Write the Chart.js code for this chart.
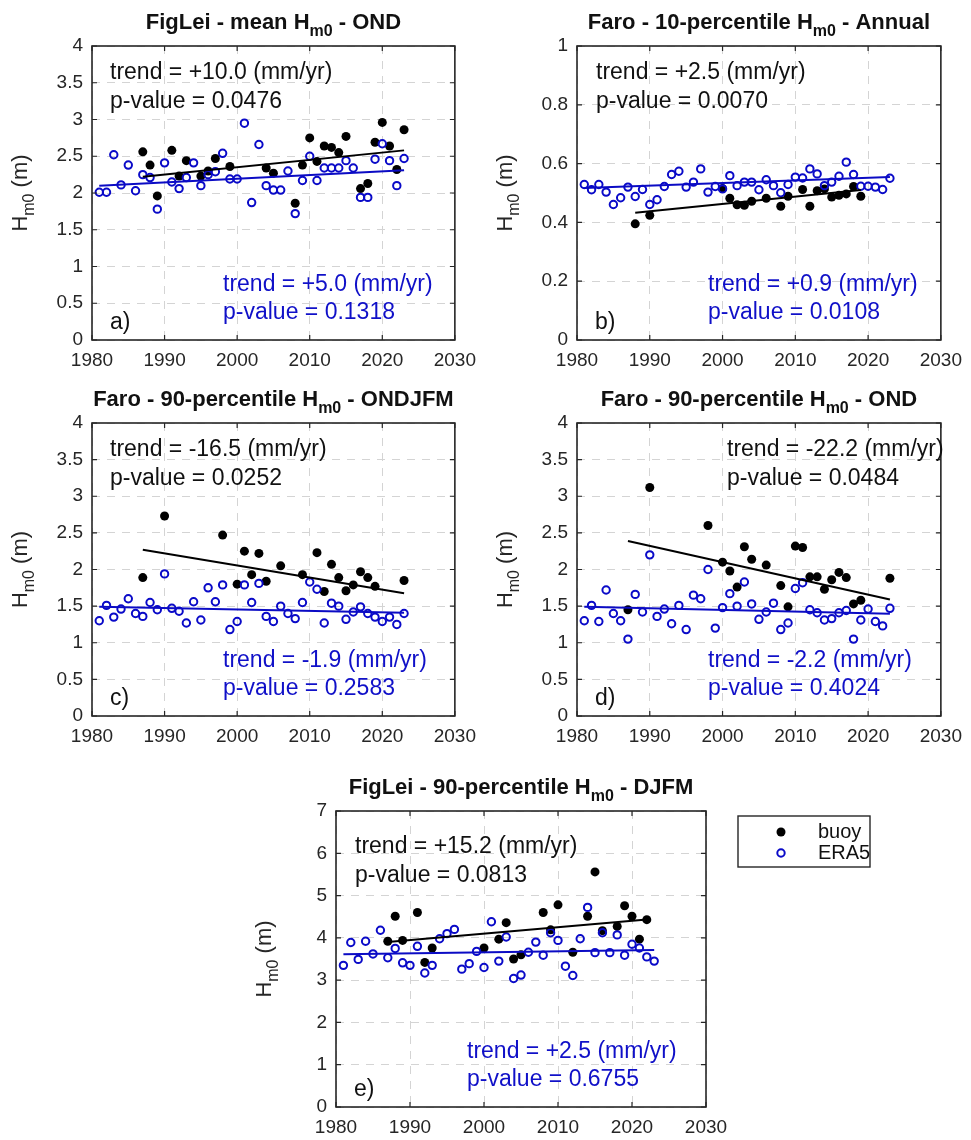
<!DOCTYPE html>
<html>
<head>
<meta charset="utf-8">
<script src="https://cdn.jsdelivr.net/npm/chart.js@4.4.1/dist/chart.umd.min.js"></script>
<style>
  body { margin: 0; background: #fff; }
  #wrap { position: relative; width: 971px; height: 1140px; overflow: hidden; }
  #wrap canvas { position: absolute; }
</style>
</head>
<body>
<div id="wrap"></div>
<script>
// ---- data ----
const eraYears = [1981,1982,1983,1984,1985,1986,1987,1988,1989,1990,1991,1992,1993,1994,1995,1996,1997,1998,1999,2000,
  2001,2002,2003,2004,2005,2006,2007,2008,2009,2010,2011,2012,2013,2014,2015,2016,2017,2018,2019,2020,2021,2022,2023];

// a) FigLei - mean Hm0 - OND
const buoyYearsA = [1987,1988,1989,1991,1992,1993,1995,1996,1997,1999,2004,2005,2008,2009,2010,2011,2012,2013,2014,2015,2017,2018,2019,2020,2021,2022,2023];
const buoyA = [2.56,2.38,1.96,2.58,2.23,2.44,2.23,2.30,2.47,2.36,2.34,2.27,1.86,2.38,2.75,2.43,2.64,2.62,2.55,2.77,2.06,2.13,2.69,2.96,2.64,2.32,2.86];
const eraA = [2.01,2.01,2.52,2.11,2.38,2.03,2.25,2.21,1.78,2.41,2.15,2.06,2.21,2.41,2.10,2.25,2.29,2.54,2.19,2.19,
  2.95,1.87,2.66,2.10,2.04,2.04,2.30,1.72,2.17,2.50,2.17,2.34,2.34,2.34,2.44,2.34,1.94,1.94,2.46,2.67,2.44,2.10,2.47];

// b) Faro - 10-percentile Hm0 - Annual
const buoyYearsB = [1988,1990,2000,2001,2002,2003,2004,2006,2008,2009,2011,2012,2013,2014,2015,2016,2017,2018,2019];
const buoyB = [0.395,0.424,0.515,0.482,0.460,0.458,0.472,0.482,0.455,0.489,0.512,0.455,0.508,0.514,0.486,0.492,0.497,0.522,0.489];
const eraB = [0.529,0.511,0.529,0.503,0.461,0.484,0.520,0.488,0.512,0.461,0.477,0.522,0.563,0.574,0.520,0.537,0.582,0.503,0.522,0.514,
  0.559,0.525,0.537,0.537,0.511,0.545,0.525,0.501,0.529,0.554,0.551,0.582,0.565,0.525,0.537,0.557,0.605,0.563,0.523,0.523,0.520,0.512,0.550];

// c) Faro - 90-percentile Hm0 - ONDJFM
const buoyYearsC = [1987,1990,1998,2000,2001,2002,2003,2004,2006,2009,2011,2012,2013,2014,2015,2016,2017,2018,2019,2023];
const buoyC = [1.89,2.73,2.47,1.80,2.25,1.93,2.22,1.84,2.05,1.93,2.23,1.70,2.07,1.89,1.71,1.79,1.97,1.89,1.77,1.85];
const eraC = [1.30,1.51,1.35,1.46,1.60,1.40,1.36,1.55,1.45,1.94,1.47,1.43,1.27,1.56,1.31,1.75,1.56,1.79,1.18,1.29,
  1.79,1.55,1.81,1.36,1.29,1.50,1.40,1.33,1.55,1.83,1.73,1.27,1.54,1.50,1.32,1.42,1.49,1.40,1.35,1.29,1.35,1.25,1.40];

// d) Faro - 90-percentile Hm0 - OND
const buoyYearsD = [1987,1990,1998,2000,2001,2002,2003,2004,2006,2008,2009,2010,2011,2012,2013,2014,2015,2016,2017,2018,2019,2023];
const buoyD = [1.45,3.12,2.60,2.10,1.98,1.76,2.31,2.14,2.06,1.78,1.49,2.32,2.30,1.90,1.90,1.73,1.86,1.96,1.89,1.53,1.58,1.88];
const eraD = [1.30,1.51,1.29,1.72,1.40,1.30,1.05,1.66,1.42,2.20,1.36,1.46,1.26,1.51,1.18,1.65,1.60,2.00,1.20,1.48,
  1.67,1.50,1.83,1.53,1.32,1.42,1.54,1.18,1.27,1.74,1.82,1.45,1.41,1.31,1.33,1.41,1.44,1.05,1.31,1.46,1.29,1.23,1.47];

// e) FigLei - 90-percentile Hm0 - DJFM
const buoyYearsE = [1987,1988,1989,1991,1992,1993,2000,2002,2003,2004,2005,2008,2009,2010,2012,2014,2015,2016,2018,2019,2020,2021,2022];
const buoyE = [3.92,4.51,3.94,4.60,3.42,3.76,3.76,3.97,4.36,3.50,3.60,4.60,4.19,4.78,3.66,4.51,5.56,4.17,4.27,4.76,4.51,3.97,4.43];
const eraE = [3.35,3.89,3.49,3.92,3.62,4.18,3.53,3.75,3.41,3.35,3.80,3.17,3.35,3.98,4.10,4.20,3.26,3.39,3.68,3.30,
  4.38,3.45,4.02,3.04,3.12,3.66,3.90,3.59,4.12,3.94,3.33,3.11,3.98,4.72,3.65,4.12,3.65,4.07,3.59,3.85,3.76,3.55,3.45];

// linear trends (mm/yr), fitted value at the first year, p-values
const trendBuoy = [10.0, 2.5, -16.5, -22.2, 15.2];
const trendEra = [5.0, 0.9, -1.9, -2.2, 2.5];
const startBuoy = [2.22, 0.433, 2.27, 2.39, 3.90];
const startEra = [2.10, 0.517, 1.49, 1.49, 3.61];
const pBuoy = ['0.0476', '0.0070', '0.0252', '0.0484', '0.0813'];
const pEra = ['0.1318', '0.0108', '0.2583', '0.4024', '0.6755'];

// axis ticks
const xTicks = [1980, 1990, 2000, 2010, 2020, 2030];
const yTicks4 = [0, 0.5, 1, 1.5, 2, 2.5, 3, 3.5, 4];
const yTicks1 = [0, 0.2, 0.4, 0.6, 0.8, 1];
const yTicks7 = [0, 1, 2, 3, 4, 5, 6, 7];

const titles = [
  ['FigLei - mean H', 'm0', ' - OND'],
  ['Faro - 10-percentile H', 'm0', ' - Annual'],
  ['Faro - 90-percentile H', 'm0', ' - ONDJFM'],
  ['Faro - 90-percentile H', 'm0', ' - OND'],
  ['FigLei - 90-percentile H', 'm0', ' - DJFM']
];
const letters = ['a)', 'b)', 'c)', 'd)', 'e)'];
const legendNames = ['buoy', 'ERA5'];

// ---- look ----
const FONT = '"Liberation Sans", Arial, Helvetica, sans-serif';
const INK = '#262626';
const BLUE = '#1010c8';
const GRID = '#d4d4d4';

// plot boxes on the page: x/y of the axes, size, canvas rect, text offsets
const boxes = [
  { x: 92,  y: 46,  w: 367, h: 294, cx: 0,   cy: 0,   cw: 485, ch: 390, tx: 18,  ty: 33 },
  { x: 577, y: 46,  w: 370, h: 294, cx: 485, cy: 0,   cw: 486, ch: 390, tx: 19,  ty: 33 },
  { x: 92,  y: 423, w: 367, h: 293, cx: 0,   cy: 377, cw: 485, ch: 389, tx: 18,  ty: 33 },
  { x: 577, y: 423, w: 370, h: 293, cx: 485, cy: 377, cw: 486, ch: 389, tx: 150, ty: 33 },
  { x: 336, y: 811, w: 370, h: 296, cx: 244, cy: 765, cw: 660, ch: 375, tx: 19,  ty: 42 }
];

const panels = [
  { buoyYears: buoyYearsA, buoy: buoyA, era: eraA, yMax: 4, yTicks: yTicks4 },
  { buoyYears: buoyYearsB, buoy: buoyB, era: eraB, yMax: 1, yTicks: yTicks1 },
  { buoyYears: buoyYearsC, buoy: buoyC, era: eraC, yMax: 4, yTicks: yTicks4 },
  { buoyYears: buoyYearsD, buoy: buoyD, era: eraD, yMax: 4, yTicks: yTicks4 },
  { buoyYears: buoyYearsE, buoy: buoyE, era: eraE, yMax: 7, yTicks: yTicks7 }
];

function fmtTrend(v) {
  return (v > 0 ? '+' : '') + v.toFixed(1);
}

// straight trend line from first to last year of a series
function trendLine(years, slope, y0) {
  const a = years[0], b = years[years.length - 1];
  return [{ x: a, y: y0 }, { x: b, y: y0 + slope / 1000 * (b - a) }];
}

// text with a subscript in the middle: [main, sub, rest]
function subText(ctx, parts, x, y, size, weight, align) {
  const big = weight + ' ' + size + 'px ' + FONT;
  const small = weight + ' ' + Math.round(size * 0.72) + 'px ' + FONT;
  ctx.font = big; const w0 = ctx.measureText(parts[0]).width;
  ctx.font = small; const w1 = ctx.measureText(parts[1]).width;
  ctx.font = big; const w2 = ctx.measureText(parts[2]).width;
  const sx = align === 'center' ? x - (w0 + w1 + w2) / 2 : x;
  ctx.textAlign = 'left';
  ctx.textBaseline = 'alphabetic';
  ctx.font = big; ctx.fillText(parts[0], sx, y);
  ctx.font = small; ctx.fillText(parts[1], sx + w0, y + size * 0.32);
  ctx.font = big; ctx.fillText(parts[2], sx + w0 + w1, y);
}

const panelDecor = {
  id: 'panelDecor',
  afterDraw(chart, args, opts) {
    const i = opts.index;
    const b = boxes[i];
    const { ctx, chartArea: ca } = chart;
    const xs = chart.scales.x, ys = chart.scales.y;
    ctx.save();

    // box with inward ticks on all four sides
    ctx.strokeStyle = INK;
    ctx.lineWidth = 1.6;
    ctx.strokeRect(ca.left, ca.top, ca.right - ca.left, ca.bottom - ca.top);
    ctx.lineWidth = 1.2;
    ctx.beginPath();
    xs.ticks.forEach(t => {
      const px = xs.getPixelForValue(t.value);
      ctx.moveTo(px, ca.bottom); ctx.lineTo(px, ca.bottom - 5);
      ctx.moveTo(px, ca.top); ctx.lineTo(px, ca.top + 5);
    });
    ys.ticks.forEach(t => {
      const py = ys.getPixelForValue(t.value);
      ctx.moveTo(ca.left, py); ctx.lineTo(ca.left + 5, py);
      ctx.moveTo(ca.right, py); ctx.lineTo(ca.right - 5, py);
    });
    ctx.stroke();

    // title
    ctx.fillStyle = '#111';
    subText(ctx, titles[i], (ca.left + ca.right) / 2, ca.top - 17, 22, 'bold', 'center');

    // y label
    ctx.fillStyle = INK;
    ctx.save();
    ctx.translate(ca.left - 65, (ca.top + ca.bottom) / 2);
    ctx.rotate(-Math.PI / 2);
    subText(ctx, ['H', 'm0', ' (m)'], 0, 0, 22, 'normal', 'center');
    ctx.restore();

    // trend annotations
    ctx.font = '23px ' + FONT;
    ctx.textAlign = 'left';
    ctx.textBaseline = 'alphabetic';
    ctx.fillStyle = '#111';
    ctx.fillText('trend = ' + fmtTrend(trendBuoy[i]) + ' (mm/yr)', ca.left + b.tx, ca.top + b.ty);
    ctx.fillText('p-value = ' + pBuoy[i], ca.left + b.tx, ca.top + b.ty + 29);
    ctx.fillStyle = BLUE;
    ctx.fillText('trend = ' + fmtTrend(trendEra[i]) + ' (mm/yr)', ca.left + 131, ca.bottom - 49);
    ctx.fillText('p-value = ' + pEra[i], ca.left + 131, ca.bottom - 21);
    ctx.fillStyle = '#111';
    ctx.fillText(letters[i], ca.left + 18, ca.bottom - 11);

    // legend next to the last panel
    if (i === 4) {
      const lx = 738 - b.cx, ly = 816 - b.cy;
      ctx.strokeStyle = INK;
      ctx.lineWidth = 1.4;
      ctx.fillStyle = '#fff';
      ctx.fillRect(lx, ly, 132, 51);
      ctx.strokeRect(lx, ly, 132, 51);
      const buoySet = chart.data.datasets[3], eraSet = chart.data.datasets[2];
      ctx.fillStyle = buoySet.backgroundColor;
      ctx.beginPath(); ctx.arc(lx + 43, ly + 16, buoySet.pointRadius, 0, Math.PI * 2); ctx.fill();
      ctx.strokeStyle = eraSet.borderColor;
      ctx.lineWidth = eraSet.borderWidth;
      ctx.beginPath(); ctx.arc(lx + 43, ly + 37, eraSet.pointRadius, 0, Math.PI * 2); ctx.stroke();
      ctx.fillStyle = '#111';
      ctx.font = '20px ' + FONT;
      ctx.textBaseline = 'middle';
      ctx.fillText(legendNames[0], lx + 80, ly + 16);
      ctx.fillText(legendNames[1], lx + 80, ly + 37);
    }
    ctx.restore();
  }
};

const wrap = document.getElementById('wrap');

panels.forEach((p, i) => {
  const b = boxes[i];
  const cv = document.createElement('canvas');
  cv.width = b.cw;
  cv.height = b.ch;
  cv.style.left = b.cx + 'px';
  cv.style.top = b.cy + 'px';
  wrap.appendChild(cv);

  const padTop = b.y - b.cy;
  const axisW = b.x - b.cx;
  const axisH = b.ch - padTop - b.h;
  const padRight = b.cw - axisW - b.w;
  const tickFont = { family: FONT, size: 19 };

  new Chart(cv, {
    type: 'scatter',
    data: {
      datasets: [
        { type: 'line', data: trendLine(p.buoyYears, trendBuoy[i], startBuoy[i]),
          borderColor: '#000', borderWidth: 2, pointRadius: 0, fill: false },
        { type: 'line', data: trendLine(eraYears, trendEra[i], startEra[i]),
          borderColor: '#0b0bc4', borderWidth: 2, pointRadius: 0, fill: false },
        { label: 'ERA5', data: eraYears.map((yr, k) => ({ x: yr, y: p.era[k] })),
          pointRadius: 3.7, borderWidth: 2, borderColor: '#0a0ac8', backgroundColor: 'rgba(0,0,0,0)' },
        { label: 'buoy', data: p.buoyYears.map((yr, k) => ({ x: yr, y: p.buoy[k] })),
          pointRadius: 4.5, borderWidth: 0, borderColor: '#000', backgroundColor: '#000' }
      ]
    },
    options: {
      responsive: false,
      animation: false,
      events: [],
      layout: { padding: { top: padTop, right: padRight, left: 0, bottom: 0 } },
      plugins: {
        legend: { display: false },
        tooltip: { enabled: false },
        panelDecor: { index: i }
      },
      scales: {
        x: {
          type: 'linear', min: 1980, max: 2030,
          afterBuildTicks: s => { s.ticks = xTicks.map(v => ({ value: v })); },
          afterFit: s => { s.height = axisH; },
          grid: { color: GRID, lineWidth: 1, drawTicks: false },
          border: { display: false, dash: [8, 7] },
          ticks: { color: INK, font: tickFont, padding: 9, maxRotation: 0, autoSkip: false,
            callback: v => String(v) }
        },
        y: {
          type: 'linear', min: 0, max: p.yMax,
          afterBuildTicks: s => { s.ticks = p.yTicks.map(v => ({ value: v })); },
          afterFit: s => { s.width = axisW; },
          grid: { color: GRID, lineWidth: 1, drawTicks: false },
          border: { display: false, dash: [8, 7] },
          ticks: { color: INK, font: tickFont, padding: 9, autoSkip: false,
            callback: v => String(v) }
        }
      }
    },
    plugins: [panelDecor]
  });
});
</script>
</body>
</html>
